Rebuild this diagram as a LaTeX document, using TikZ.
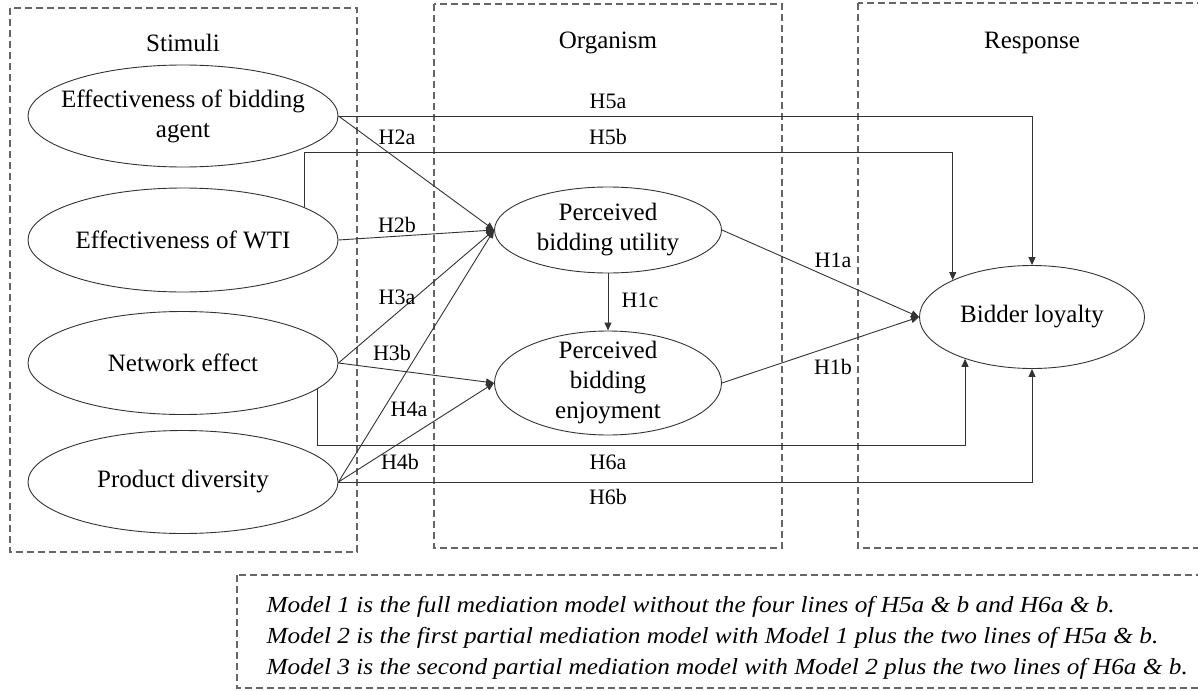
\documentclass[tikz,border=0pt]{standalone}
\usepackage{fontspec}
\setmainfont{Liberation Serif}
\newfontfamily\notefont[FakeStretch=1.1]{Liberation Serif}
\usetikzlibrary{shapes.geometric,arrows.meta}

\tikzset{
  construct/.style={ellipse, draw=black!80, line width=0.9pt, align=center,
    inner xsep=-40pt, inner ysep=-12pt, font=\fontsize{25}{30}\selectfont},
  heading/.style={font=\fontsize{25}{30}\selectfont},
  hyp/.style={font=\fontsize{22}{26}\selectfont},
  group/.style={draw=black!60, line width=1.1pt, dash pattern=on 7pt off 4pt},
  notes/.style={align=left, font=\notefont\fontsize{23}{31}\selectfont\itshape},
}

\begin{document}
\begin{tikzpicture}[x=1pt,y=-1pt]
  \useasboundingbox (0,0) rectangle (1198,690);
  % the three stages and the note
  \draw[group] (10,8) rectangle (357,552);
  \draw[group] (434,4) rectangle (782,548);
  \draw[group] (858,3) rectangle (1212,548);
  \draw[group] (237,575) rectangle (1212,688);
  \node[heading] (stimuli) at (183,43) {Stimuli};
  \node[heading] (organism) at (608,43) {Organism};
  \node[heading] (response) at (1032,43) {Response};
  % constructs
  \node[construct, minimum width=310pt, minimum height=102pt] (agent) at (183,116) {Effectiveness of bidding\\agent};
  \node[construct, minimum width=310pt, minimum height=104pt] (wti) at (183,240) {Effectiveness of WTI};
  \node[construct, minimum width=310pt, minimum height=103pt] (net) at (183,363) {Network effect};
  \node[construct, minimum width=310pt, minimum height=103pt] (prod) at (183,482) {Product diversity};
  \node[construct, minimum width=227pt, minimum height=86pt] (utility) at (608,230) {Perceived\\bidding utility};
  \node[construct, minimum width=227pt, minimum height=104pt] (enjoy) at (608,383) {Perceived\\bidding\\enjoyment};
  \node[construct, minimum width=225pt, minimum height=103pt] (loyal) at (1032,317) {Bidder loyalty};
  \coordinate (top5b) at (0,152);
  \coordinate (bot6a) at (0,445);
  % paths
  \begin{scope}[draw=black!80, line width=0.9pt, -{Triangle[length=8pt,width=7pt]}]
    \draw (agent.east) -- (utility.west);
    \draw (wti.east) -- (utility.west);
    \draw (net.east) -- (utility.west);
    \draw (prod.east) -- (utility.west);
    \draw (net.east) -- (enjoy.west);
    \draw (prod.east) -- (enjoy.west);
    \draw (utility.south) -- (enjoy.north);
    \draw (utility.east) -- (loyal.west);
    \draw (enjoy.east) -- (loyal.west);
    \draw (agent.east) -| (loyal.north);
    \draw (wti.15) -- (wti.15 |- top5b) -| (loyal.155);
    \draw (net.-11) -- (net.-11 |- bot6a) -| (loyal.212.5);
    \draw (prod.east) -| (loyal.south);
  \end{scope}
  % hypotheses
  \node[hyp] (h5a) at (608,101) {H5a};
  \node[hyp] (h5b) at (608,137) {H5b};
  \node[hyp] (h2a) at (397,137) {H2a};
  \node[hyp] (h2b) at (397,225) {H2b};
  \node[hyp] (h3a) at (397,297) {H3a};
  \node[hyp] (h1c) at (640,300) {H1c};
  \node[hyp] (h3b) at (392,353) {H3b};
  \node[hyp] (h4a) at (409,409) {H4a};
  \node[hyp] (h4b) at (400,462) {H4b};
  \node[hyp] (h6a) at (608,462) {H6a};
  \node[hyp] (h6b) at (608,497) {H6b};
  \node[hyp] (h1a) at (833,260) {H1a};
  \node[hyp] (h1b) at (833,367) {H1b};
  % model note
  \node[notes, anchor=west] (models) at (263,638) {Model 1 is the full mediation model without the four lines of H5a \& b and H6a \& b.\\
    Model 2 is the first partial mediation model with Model 1 plus the two lines of H5a \& b.\\
    Model 3 is the second partial mediation model with Model 2 plus the two lines of H6a \& b.};
\end{tikzpicture}
\end{document}
